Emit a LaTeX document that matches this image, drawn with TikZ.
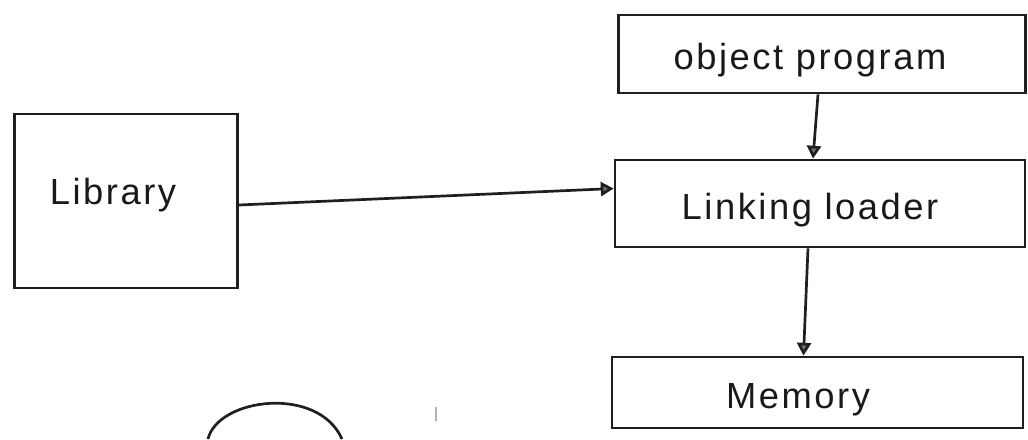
\documentclass[tikz,border=0pt]{standalone}
\usepackage{fontspec}
\setmainfont{Liberation Sans}[LetterSpace=7]
\usetikzlibrary{arrows.meta}
\tikzset{
  ink/.style={draw=black!88, line width=2.3pt},
  block/.style={ink, rectangle, inner sep=0pt},
  caption/.style={inner sep=0pt, font=\fontsize{31}{34}\selectfont, text=black!90},
  flow/.style={ink, -{Triangle[length=11pt,width=12pt,fill=black!55]}},
}
\begin{document}
\begin{tikzpicture}[x=0.03cm, y=-0.03cm]
  \useasboundingbox (0,0) rectangle (1028,439);

  % blocks
  \node[block, minimum width=223*0.03cm, minimum height=174*0.03cm] (lib) at (126,201) {};
  \node[block, minimum width=407*0.03cm, minimum height=78*0.03cm] (obj) at (822,54) {};
  \node[block, minimum width=410*0.03cm, minimum height=87*0.03cm] (link) at (820,203.5) {};
  \node[block, minimum width=411*0.03cm, minimum height=71*0.03cm] (mem) at (817.5,392.5) {};

  % block captions
  \node[caption] (libtxt) at (113,195) {Library};
  \node[caption] (objtxt) at (810,60) {object program};
  \node[caption] (linktxt) at (810,210) {Linking loader};
  \node[caption] (memtxt) at (798,400) {Memory};

  % connectors
  \draw[flow] (lib.east) ++(0,4) coordinate (libout) -- ([yshift=15*0.03cm]link.west);
  \draw[flow] ([xshift=-4*0.03cm]obj.south) -- ([xshift=-7*0.03cm]link.north);
  \draw[flow] ([xshift=-12*0.03cm]link.south) -- ([xshift=-14*0.03cm]mem.north);

  % partial sketch at the foot of the page
  \draw[ink] (208,439) .. controls (218,398) and (318,385) .. (342,439);
  \draw[draw=black!30, line width=1pt] (436,407) -- (436,421);
\end{tikzpicture}
\end{document}
